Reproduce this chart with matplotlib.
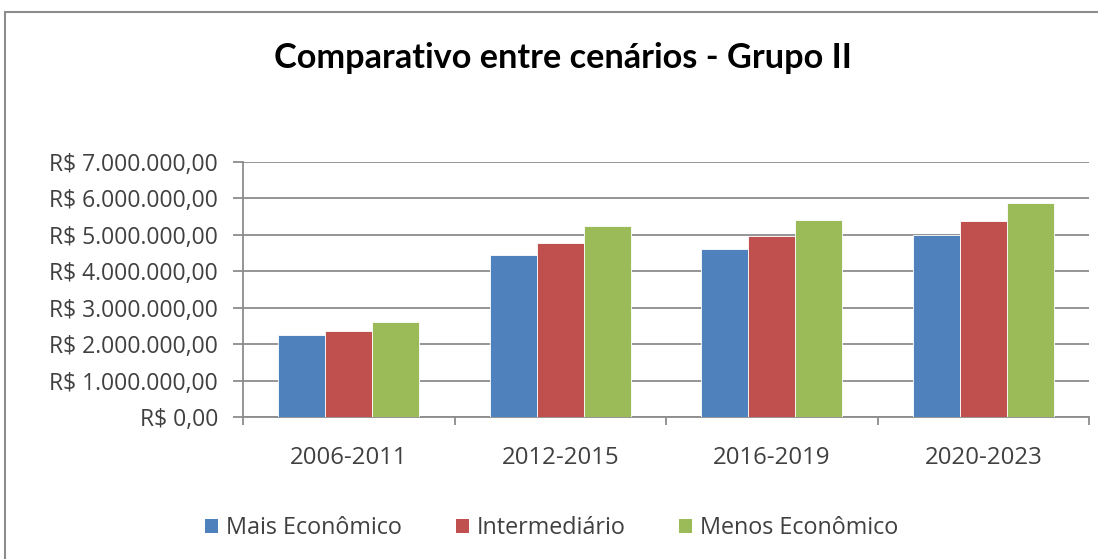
import matplotlib
matplotlib.use("Agg")
import matplotlib.pyplot as plt
from matplotlib.patches import Rectangle, Patch
import numpy as np

periods = ["2006-2011", "2012-2015", "2016-2019", "2020-2023"]
series_names = ["Mais Econômico", "Intermediário", "Menos Econômico"]
mais_economico = [2240000, 4440000, 4620000, 5000000]
intermediario = [2370000, 4790000, 4980000, 5390000]
menos_economico = [2620000, 5250000, 5420000, 5880000]
colors = ["#4F81BD", "#C0504D", "#9BBB59"]
yticks = [0, 1000000, 2000000, 3000000, 4000000, 5000000, 6000000, 7000000]

INK = "#404040"
GRID = "#8C8C8C"
plt.rcParams["font.family"] = ["Open Sans", "DejaVu Sans"]


def brl(v):
    s = f"{v:,.2f}".replace(",", "X").replace(".", ",").replace("X", ".")
    return f"R$ {s}"


W, H = 1098, 559
fig = plt.figure(figsize=(W / 100, H / 100), dpi=100)
fig.patch.set_facecolor("white")

# chart border (cropped on the right and bottom)
fig.add_artist(Rectangle((5 / W, -0.1), 1.2, 1 - 12 / H + 0.1, transform=fig.transFigure,
                         fill=False, edgecolor="#8C8C8C", linewidth=1.5))

ax = fig.add_axes([243 / W, 1 - 417 / H, (1089 - 243) / W, (417 - 162) / H])
x = np.arange(len(periods))
bw = 0.222
for i, (vals, c, name) in enumerate(zip([mais_economico, intermediario, menos_economico],
                                        colors, series_names)):
    ax.bar(x + (i - 1) * bw, vals, bw, color=c, edgecolor="white", linewidth=0.6,
           label=name, zorder=3)

ax.set_xlim(-0.5, len(periods) - 0.5)
ax.set_ylim(0, 7000000)
ax.set_yticks(yticks)
ax.set_yticklabels([brl(v) for v in yticks], fontsize=16.5, color=INK)
ax.set_xticks(x)
ax.set_xticklabels(periods, fontsize=17.3, color=INK)
ax.set_xticks(np.arange(len(periods) + 1) - 0.5, minor=True)
ax.tick_params(axis="x", which="major", length=0, pad=21)
ax.tick_params(axis="x", which="minor", length=6, color=GRID, width=1.3)
ax.tick_params(axis="y", length=7, color=GRID, width=1.3, pad=11)
ax.grid(axis="y", color=GRID, linewidth=1.3, zorder=0)
for s in ["top", "right"]:
    ax.spines[s].set_visible(False)
for s in ["left", "bottom"]:
    ax.spines[s].set_color(GRID)
    ax.spines[s].set_linewidth(1.3)

fig.text(563 / W, 1 - 58 / H, "Comparativo entre cenários - Grupo II", ha="center",
         va="center", fontsize=24.7, fontweight="bold", color="black",
         family=["Lato", "DejaVu Sans"])

handles = [Patch(facecolor=c, edgecolor="none") for c in colors]
fig.legend(handles, series_names, loc="center", bbox_to_anchor=(552 / W, 1 - 528 / H),
           ncol=3, frameon=False, fontsize=16.8, handlelength=0.55, handleheight=0.55,
           handletextpad=0.35, columnspacing=2.3, labelcolor=INK)

fig.savefig("out.png", dpi=100, facecolor="white")
